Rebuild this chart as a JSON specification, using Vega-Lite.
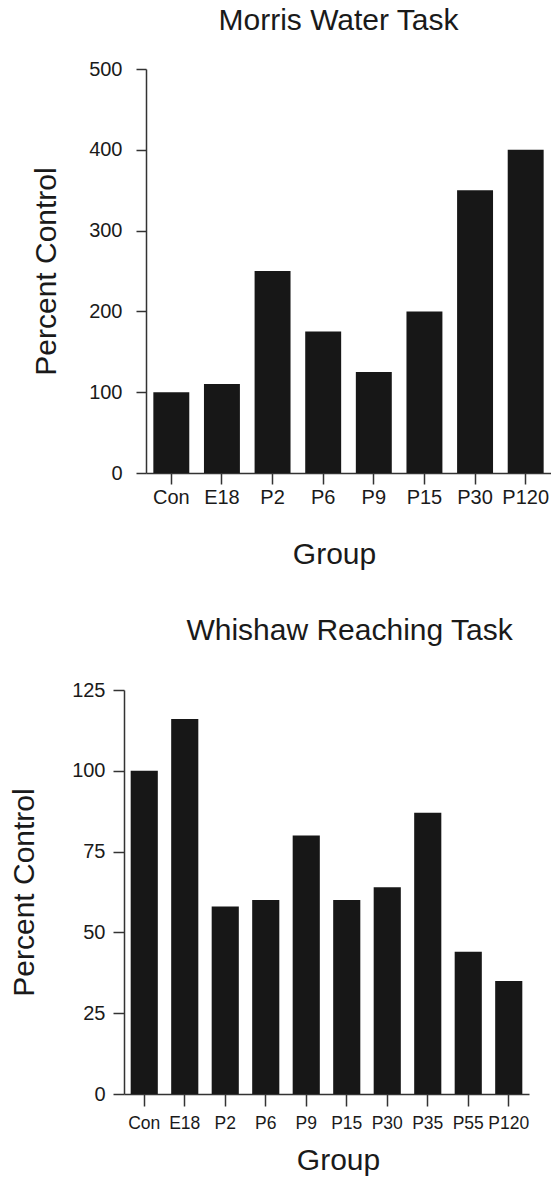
{
  "$schema": "https://vega.github.io/schema/vega-lite/v6.json",
  "padding": {"left": 9, "top": 6, "right": 0, "bottom": 0},
  "background": "white",
  "datasets": {
    "morris": [
      {"group": "Con", "percent": 100},
      {"group": "E18", "percent": 110},
      {"group": "P2", "percent": 250},
      {"group": "P6", "percent": 175},
      {"group": "P9", "percent": 125},
      {"group": "P15", "percent": 200},
      {"group": "P30", "percent": 350},
      {"group": "P120", "percent": 400}
    ],
    "whishaw": [
      {"group": "Con", "percent": 100},
      {"group": "E18", "percent": 116},
      {"group": "P2", "percent": 58},
      {"group": "P6", "percent": 60},
      {"group": "P9", "percent": 80},
      {"group": "P15", "percent": 60},
      {"group": "P30", "percent": 64},
      {"group": "P35", "percent": 87},
      {"group": "P55", "percent": 44},
      {"group": "P120", "percent": 35}
    ]
  },
  "config": {
    "font": "Liberation Sans",
    "view": {"stroke": null},
    "axis": {
      "grid": false,
      "domainColor": "#333333",
      "domainWidth": 1.5,
      "tickColor": "#333333",
      "tickWidth": 1.5,
      "labelColor": "#1a1a1a",
      "titleColor": "#1a1a1a",
      "labelFont": "Liberation Sans",
      "titleFont": "Liberation Sans",
      "titleFontWeight": "normal"
    },
    "title": {"font": "Liberation Sans", "fontWeight": "normal", "fontSize": 30, "color": "#1a1a1a"}
  },
  "spacing": 47,
  "vconcat": [
    {
      "width": 427,
      "height": 404,
      "title": {"text": "Morris Water Task", "dx": 1, "offset": 23},
      "data": {"name": "morris"},
      "mark": {"type": "bar", "color": "#171717"},
      "encoding": {
        "x": {
          "field": "group",
          "type": "nominal",
          "sort": null,
          "scale": {"range": [22, 427], "paddingInner": 0.29, "paddingOuter": 0.145},
          "axis": {
            "labelAngle": 0,
            "labelFontSize": 20,
            "tickSize": 11,
            "labelPadding": 3,
            "title": "Group",
            "titleFontSize": 30,
            "titlePadding": 32,
            "titleX": 210,
            "titleAlign": "center"
          }
        },
        "y": {
          "field": "percent",
          "type": "quantitative",
          "scale": {"domain": [0, 500], "nice": false},
          "axis": {
            "offset": -22,
            "values": [0, 100, 200, 300, 400, 500],
            "labelFontSize": 20,
            "tickSize": 10,
            "labelPadding": 14,
            "title": "Percent Control",
            "titleFontSize": 30,
            "titlePadding": 27
          }
        }
      }
    },
    {
      "width": 405,
      "height": 404,
      "title": {"text": "Whishaw Reaching Task", "dx": 23, "offset": 34},
      "data": {"name": "whishaw"},
      "mark": {"type": "bar", "color": "#171717"},
      "encoding": {
        "x": {
          "field": "group",
          "type": "nominal",
          "sort": null,
          "scale": {"paddingInner": 0.33, "paddingOuter": 0.165},
          "axis": {
            "labelAngle": 0,
            "labelFontSize": 17.5,
            "tickSize": 12,
            "labelPadding": 8,
            "title": "Group",
            "titleFontSize": 30,
            "titlePadding": 14,
            "titleX": 214,
            "titleAlign": "center"
          }
        },
        "y": {
          "field": "percent",
          "type": "quantitative",
          "scale": {"domain": [0, 125], "nice": false},
          "axis": {
            "values": [0, 25, 50, 75, 100, 125],
            "labelFontSize": 20,
            "tickSize": 11,
            "labelPadding": 8,
            "title": "Percent Control",
            "titleFontSize": 30,
            "titlePadding": 32
          }
        }
      }
    }
  ]
}
